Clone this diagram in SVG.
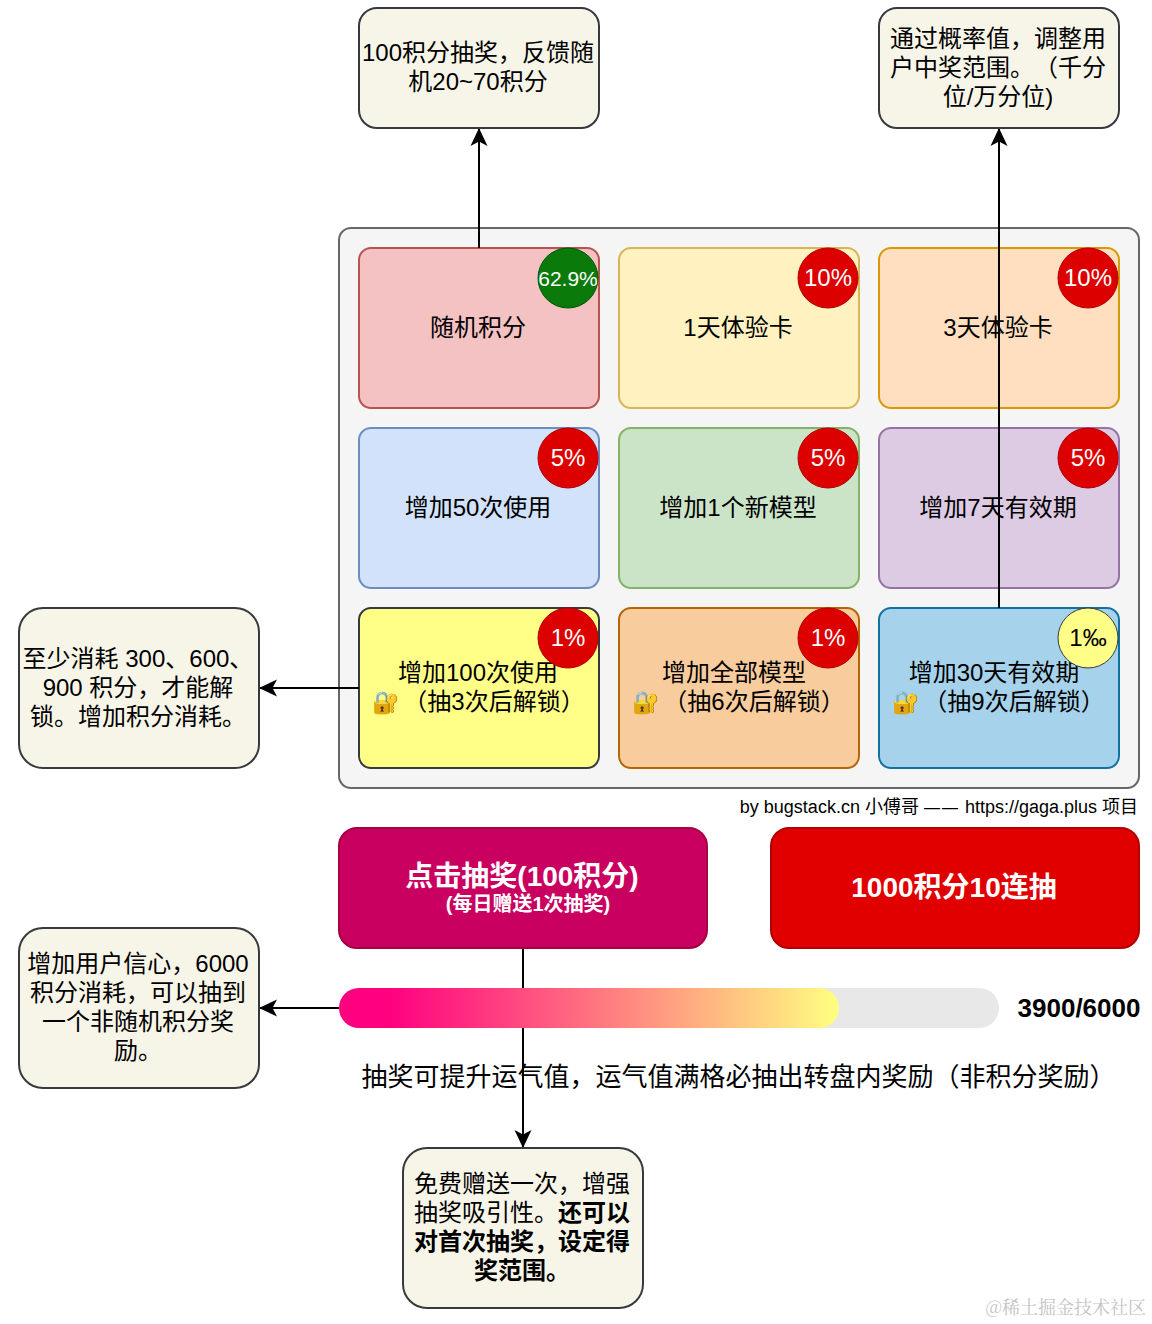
<svg xmlns="http://www.w3.org/2000/svg" width="1152" height="1324" viewBox="0 0 1152 1324">
<style>
text{font-family:"Liberation Sans","Noto Sans CJK SC",sans-serif;font-size:24px;fill:#000;text-anchor:middle;text-spacing-trim:space-all}
.card{stroke-width:2}
.note rect{fill:#f7f5e8;stroke:#36393d;stroke-width:2}
.b{fill:#dc0000;stroke:#b20000;stroke-width:1}
.badge{fill:#fff;font-size:24px}
.lock{text-anchor:start;font-family:"Noto Color Emoji","Noto Sans CJK SC",sans-serif;font-size:22px}
.line{fill:none;stroke:#000;stroke-width:2}
.bold{font-weight:700}
</style>
<defs>
<marker id="arrow" markerUnits="userSpaceOnUse" markerWidth="20" markerHeight="20" refX="17" refY="10" orient="auto"><path d="M0 1.500 L18 10 L0 18.500 L4.500 10Z" fill="#000"/></marker>
<linearGradient id="grad" x1="0" x2="1" y1="0" y2="0"><stop offset="0.1" stop-color="#ff0080"/><stop offset="1" stop-color="#ffff80"/></linearGradient>
</defs>
<g id="panel"><rect x="339" y="228" width="800" height="560" rx="12" fill="#f5f5f5" stroke="#666" stroke-width="2"/></g>
<g id="card-1"><rect class="card" x="359" y="248" width="240" height="160" rx="12" fill="#f4c2c2" stroke="#b85450"/><text x="478" y="336">随机积分</text></g>
<g id="card-2"><rect class="card" x="619" y="248" width="240" height="160" rx="12" fill="#fff1c0" stroke="#d6b656"/><text x="738" y="336">1天体验卡</text></g>
<g id="card-3"><rect class="card" x="879" y="248" width="240" height="160" rx="12" fill="#ffdfc0" stroke="#d79b00"/><text x="998" y="336">3天体验卡</text></g>
<g id="card-4"><rect class="card" x="359" y="428" width="240" height="160" rx="12" fill="#d2e2fb" stroke="#6c8ebf"/><text x="478" y="516">增加50次使用</text></g>
<g id="card-5"><rect class="card" x="619" y="428" width="240" height="160" rx="12" fill="#cbe4c8" stroke="#82b366"/><text x="738" y="516">增加1个新模型</text></g>
<g id="card-6"><rect class="card" x="879" y="428" width="240" height="160" rx="12" fill="#dccbe2" stroke="#9673a6"/><text x="998" y="516">增加7天有效期</text></g>
<g id="card-7"><rect class="card" x="359" y="608" width="240" height="160" rx="12" fill="#ffff88" stroke="#36393d"/><text x="478" y="681">增加100次使用</text><text class="lock" x="372" y="710">🔐</text><text x="494" y="710">（抽3次后解锁）</text></g>
<g id="card-8"><rect class="card" x="619" y="608" width="240" height="160" rx="12" fill="#f8cc9c" stroke="#b46504"/><text x="734" y="681">增加全部模型</text><text class="lock" x="632" y="710">🔐</text><text x="754" y="710">（抽6次后解锁）</text></g>
<g id="card-9"><rect class="card" x="879" y="608" width="240" height="160" rx="12" fill="#a6d3eb" stroke="#10739e"/><text x="994" y="681">增加30天有效期</text><text class="lock" x="892" y="710">🔐</text><text x="1014" y="710">（抽9次后解锁）</text></g>
<g id="connectors">
<path class="line" d="M479 248V129" marker-end="url(#arrow)"/>
<path class="line" d="M999 608V129" marker-end="url(#arrow)"/>
<path class="line" d="M359 688H260" marker-end="url(#arrow)"/>
<path class="line" d="M339 1008H260" marker-end="url(#arrow)"/>
<path class="line" d="M523 948V1147" marker-end="url(#arrow)"/>
</g>
<g id="badge-1"><circle cx="568" cy="278" r="30" fill="#0a7a0a" stroke="#005700"/><text class="badge" x="568" y="286" style="font-size:21px">62.9%</text></g>
<g id="badge-2"><circle class="b" cx="828" cy="278" r="30"/><text class="badge" x="828" y="286">10%</text></g>
<g id="badge-3"><circle class="b" cx="1088" cy="278" r="30"/><text class="badge" x="1088" y="286">10%</text></g>
<g id="badge-4"><circle class="b" cx="568" cy="458" r="30"/><text class="badge" x="568" y="466">5%</text></g>
<g id="badge-5"><circle class="b" cx="828" cy="458" r="30"/><text class="badge" x="828" y="466">5%</text></g>
<g id="badge-6"><circle class="b" cx="1088" cy="458" r="30"/><text class="badge" x="1088" y="466">5%</text></g>
<g id="badge-7"><circle class="b" cx="568" cy="638" r="30"/><text class="badge" x="568" y="646">1%</text></g>
<g id="badge-8"><circle class="b" cx="828" cy="638" r="30"/><text class="badge" x="828" y="646">1%</text></g>
<g id="badge-9"><circle cx="1088" cy="638" r="30" fill="#ffff88" stroke="#36393d"/><text x="1088" y="646">1‰</text></g>
<g id="note-top-left" class="note"><rect x="359" y="8" width="240" height="120" rx="18"/><text x="478" y="61">100积分抽奖，反馈随</text><text x="478" y="90">机20~70积分</text></g>
<g id="note-top-right" class="note"><rect x="879" y="8" width="240" height="120" rx="18"/><text x="998" y="47">通过概率值，调整用</text><text x="998" y="76">户中奖范围。（千分</text><text x="998" y="105">位/万分位)</text></g>
<g id="note-left-1" class="note"><rect x="19" y="608" width="240" height="160" rx="24"/><text x="138" y="667">至少消耗 300、600、</text><text x="138" y="696">900 积分，才能解</text><text x="138" y="725">锁。增加积分消耗。</text></g>
<g id="note-left-2" class="note"><rect x="19" y="928" width="240" height="160" rx="24"/><text x="138" y="972">增加用户信心，6000</text><text x="138" y="1001">积分消耗，可以抽到</text><text x="138" y="1030">一个非随机积分奖</text><text x="138" y="1059">励。</text></g>
<g id="note-bottom" class="note"><rect x="403" y="1148" width="240" height="160" rx="24"/><text x="522" y="1192">免费赠送一次，增强</text><text x="522" y="1221">抽奖吸引性。<tspan class="bold">还可以</tspan></text><text x="522" y="1250" class="bold">对首次抽奖，设定得</text><text x="522" y="1279" class="bold">奖范围。</text></g>
<g id="credit"><text x="1138" y="813" style="text-anchor:end;font-size:18px">by bugstack.cn 小傅哥 <tspan style="font-size:16px;letter-spacing:2px">——</tspan> https://gaga.plus 项目</text></g>
<g id="button-single"><rect x="339" y="828" width="368" height="120" rx="18" fill="#c90060" stroke="#a50040" stroke-width="2"/><text x="522" y="886" class="bold" style="fill:#fff;font-size:28px">点击抽奖(100积分)</text><text x="528" y="911" class="bold" style="fill:#fff;font-size:20px">(每日赠送1次抽奖)</text></g>
<g id="button-ten"><rect x="771" y="828" width="368" height="120" rx="18" fill="#e00000" stroke="#b20000" stroke-width="2"/><text x="954" y="897" class="bold" style="fill:#fff;font-size:28px">1000积分10连抽</text></g>
<g id="progress"><rect x="339" y="988" width="660" height="40" rx="20" fill="#e8e8e8"/><rect x="339" y="988" width="500" height="40" rx="20" fill="url(#grad)"/></g>
<g id="progress-value"><text x="1079" y="1017" class="bold" style="font-size:26px">3900/6000</text></g>
<g id="progress-caption"><text x="738.500" y="1086" style="font-size:26px">抽奖可提升运气值，运气值满格必抽出转盘内奖励（非积分奖励）</text></g>
<g id="watermark"><text x="1146" y="1314" style="text-anchor:end;font-size:18px;fill:#c4c4c4;font-family:'Noto Serif CJK SC','Noto Sans CJK SC',sans-serif">@稀土掘金技术社区</text></g>
</svg>
